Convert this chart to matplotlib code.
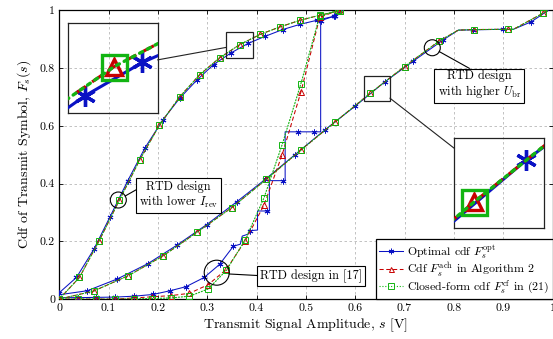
import matplotlib.pyplot as plt
from matplotlib.patches import Ellipse, Rectangle
from matplotlib.lines import Line2D

plt.rcParams['font.family'] = 'cmr10'
plt.rcParams['mathtext.fontset'] = 'cm'
plt.rcParams['axes.formatter.use_mathtext'] = True
plt.rcParams['axes.unicode_minus'] = False

# RTD design with lower I_rev
a_opt_x = [0, 0.035, 0.07, 0.103, 0.139, 0.174, 0.21, 0.244, 0.279, 0.313, 0.348,
           0.383, 0.418, 0.453, 0.488, 0.522, 0.557, 0.575]
a_opt_y = [0.022, 0.075, 0.172, 0.285, 0.41, 0.524, 0.62, 0.695, 0.758, 0.812, 0.852,
           0.885, 0.91, 0.933, 0.951, 0.965, 0.979, 1.0]
a_x = [0, 0.041, 0.081, 0.122, 0.163, 0.203, 0.244, 0.285, 0.325, 0.366, 0.407,
       0.447, 0.488, 0.529, 0.569]
a_ach = [0, 0.075, 0.202, 0.343, 0.481, 0.602, 0.70, 0.777, 0.835, 0.881, 0.916,
         0.942, 0.965, 0.983, 0.998]
a_cf = [0, 0.075, 0.202, 0.343, 0.481, 0.602, 0.70, 0.777, 0.835, 0.881, 0.916,
        0.942, 0.965, 0.983, 0.998]

# RTD design with higher U_br
b_opt_x = [0, 0.057, 0.118, 0.18, 0.238, 0.299, 0.36, 0.418, 0.478, 0.538, 0.6,
           0.66, 0.718, 0.779, 0.809, 0.839, 0.9, 0.921, 0.957, 0.992]
b_opt_y = [0.015, 0.029, 0.07, 0.123, 0.186, 0.258, 0.337, 0.415, 0.50, 0.585, 0.668,
           0.752, 0.824, 0.898, 0.931, 0.932, 0.934, 0.934, 0.96, 1.0]
b_x = [0, 0.07, 0.14, 0.21, 0.28, 0.35, 0.42, 0.49, 0.56, 0.63, 0.70, 0.77, 0.809,
       0.84, 0.91, 0.921, 0.98, 0.992]
b_ach = [0, 0.028, 0.081, 0.149, 0.232, 0.317, 0.415, 0.516, 0.614, 0.712, 0.805,
         0.893, 0.931, 0.933, 0.934, 0.934, 0.989, 1.0]
b_cf = [0, 0.028, 0.081, 0.149, 0.232, 0.317, 0.415, 0.516, 0.614, 0.712, 0.805,
        0.893, 0.931, 0.933, 0.934, 0.934, 0.989, 1.0]

# RTD design in [17]
c_opt_x = [0, 0.038, 0.075, 0.113, 0.151, 0.19, 0.225, 0.257, 0.294, 0.325, 0.353,
           0.367, 0.371, 0.383, 0.387, 0.402, 0.402, 0.422, 0.426, 0.426, 0.453,
           0.458, 0.458, 0.485, 0.517, 0.53, 0.53, 0.559, 0.575]
c_opt_y = [0.005, 0.005, 0.006, 0.007, 0.01, 0.016, 0.029, 0.043, 0.075, 0.12, 0.183,
           0.19, 0.218, 0.225, 0.237, 0.239, 0.305, 0.305, 0.305, 0.41, 0.41,
           0.41, 0.579, 0.579, 0.579, 0.579, 0.964, 0.98, 1.0]
c_x = [0, 0.038, 0.075, 0.113, 0.151, 0.189, 0.226, 0.264, 0.302, 0.339, 0.377,
       0.415, 0.452, 0.49, 0.528, 0.566]
c_ach = [0, 0, 0, 0, 0.004, 0.008, 0.012, 0.02, 0.05, 0.103, 0.202, 0.325, 0.50,
         0.717, 0.975, 1.0]
c_cf = [0, 0, 0, 0, 0.001, 0.002, 0.004, 0.01, 0.035, 0.10, 0.205, 0.35, 0.535,
        0.746, 0.98, 1.0]

x_ticks = [0, 0.1, 0.2, 0.3, 0.4, 0.5, 0.6, 0.7, 0.8, 0.9, 1.0]
x_tick_labels = ['0', '0.1', '0.2', '0.3', '0.4', '0.5', '0.6', '0.7', '0.8', '0.9', '1']
y_ticks = [0, 0.2, 0.4, 0.6, 0.8, 1.0]
y_tick_labels = ['0', '0.2', '0.4', '0.6', '0.8', '1']

legend_labels = [r'Optimal cdf $F_s^{\rm opt}$',
                 r'Cdf $F_s^{\rm ach}$ in Algorithm 2',
                 r'Closed-form cdf $F_s^{\rm cf}$ in (21)']

BLUE = '#0a12c4'
RED = '#c80000'
GREEN = '#12b412'
STAR = (6, 2, 0)

# which points carry a marker
a_opt_marks = list(range(17))
b_opt_marks = list(range(1, 14)) + [15, 16, 18]
c_opt_marks = list(range(1, 11)) + [14, 17, 20, 23, 24, 26, 27]
b_marks = list(range(12)) + [13, 14, 16]


def draw_curves(a, lw, ms_star, ms_tri, ms_sq, mew):
    opt = [(a_opt_x, a_opt_y, a_opt_marks), (b_opt_x, b_opt_y, b_opt_marks),
           (c_opt_x, c_opt_y, c_opt_marks)]
    other = [(a_x, a_ach, a_cf, None), (b_x, b_ach, b_cf, b_marks),
             (c_x, c_ach, c_cf, None)]
    for xs, ys, mk in opt:
        a.plot(xs, ys, color=BLUE, lw=lw, marker=STAR, ms=ms_star, mew=mew,
               markevery=mk, zorder=3)
    for xs, ach, cf, mk in other:
        a.plot(xs, ach, color=RED, lw=lw, ls=(0, (4, 2.5)), marker='^', ms=ms_tri,
               mew=mew, mfc='none', markevery=mk, zorder=4)
        a.plot(xs, cf, color=GREEN, lw=lw * 1.1, ls=(0, (1, 1.6)), marker='s',
               ms=ms_sq, mew=mew, mfc='none', markevery=mk, zorder=5,
               dash_capstyle='round')


fig = plt.figure(figsize=(5.53, 3.39), dpi=100)
ax = fig.add_axes([0.1071, 0.1177, 0.892, 0.8522])

draw_curves(ax, 0.75, 4.2, 4.0, 5.0, 0.7)

ax.set_xlim(0, 1)
ax.set_ylim(0, 1)
ax.set_xticks(x_ticks)
ax.set_xticklabels(x_tick_labels)
ax.set_yticks(y_ticks)
ax.set_yticklabels(y_tick_labels)
ax.tick_params(direction='in', length=3, width=0.6, labelsize=8.5, top=True,
               right=True, pad=3)
ax.grid(True, color='#b8b8b8', ls=(0, (3, 3)), lw=0.6)
for s in ax.spines.values():
    s.set_linewidth(0.9)
ax.set_xlabel(r'Transmit Signal Amplitude, $s$ [V]', fontsize=10, labelpad=3)
ax.set_ylabel(r'Cdf of Transmit Symbol, $F_s(s)$', fontsize=10, labelpad=5)

handles = [
    Line2D([], [], color=BLUE, lw=0.75, marker=STAR, ms=4.0, mew=0.7),
    Line2D([], [], color=RED, lw=0.75, ls=(0, (4, 2.5)), marker='^', ms=3.6,
           mew=0.7, mfc='none'),
    Line2D([], [], color=GREEN, lw=0.8, ls=(0, (1, 1.6)), marker='s', ms=4.2,
           mew=0.7, mfc='none'),
]
leg = ax.legend(handles, legend_labels, loc='lower right', fontsize=8.6,
                frameon=True, fancybox=False, framealpha=1, edgecolor='black',
                borderaxespad=0, handlelength=2.0, handletextpad=0.3,
                labelspacing=-0.05, borderpad=0.3)
leg.get_frame().set_linewidth(0.9)
leg.set_zorder(10)

# zoomed insets: (inset box in data coords), (source window)
insets = [((0.0184, 0.6452, 0.1813, 0.3095), (0.3381, 0.3923, 0.8356, 0.9235)),
          ((0.8009, 0.2451, 0.1819, 0.3115), (0.6185, 0.6706, 0.6867, 0.7733))]
for box, src in insets:
    ins = ax.inset_axes(box, transform=ax.transData)
    ins.set_facecolor('none')
    draw_curves(ins, 2.2, 15, 12, 18, 2.4)
    ins.set_xlim(src[0], src[1])
    ins.set_ylim(src[2], src[3])
    ins.set_xticks([])
    ins.set_yticks([])
    for s in ins.spines.values():
        s.set_linewidth(0.9)
        s.set_color('#222222')
    ax.add_patch(Rectangle((src[0], src[2]), src[1] - src[0], src[3] - src[2],
                           fill=False, ec='#222222', lw=0.9, zorder=6))
    # connector line between the centres, clipped to both boxes
    c1 = (box[0] + box[2] / 2, box[1] + box[3] / 2)
    c2 = ((src[0] + src[1]) / 2, (src[2] + src[3]) / 2)
    dx, dy = c2[0] - c1[0], c2[1] - c1[1]
    t1 = min(box[2] / 2 / abs(dx), box[3] / 2 / abs(dy))
    t2 = 1 - min((src[1] - src[0]) / 2 / abs(dx), (src[3] - src[2]) / 2 / abs(dy))
    ax.plot([c1[0] + t1 * dx, c1[0] + t2 * dx], [c1[1] + t1 * dy, c1[1] + t2 * dy],
            color='#222222', lw=0.8, zorder=6)

# annotation circles, text boxes and pointer lines
notes = [
    ((0.1198, 0.343), 8, (0.2422, 0.359), 'RTD design\nwith lower $I_{\\rm rev}$',
     ((0.1338, 0.3569), (0.1551, 0.3776))),
    ((0.7563, 0.870), 8, (0.8514, 0.741), 'RTD design\nwith higher $U_{\\rm br}$',
     ((0.7705, 0.8567), (0.8313, 0.7989))),
    ((0.3193, 0.0914), 12.5, (0.5098, 0.079), 'RTD design in [17]',
     ((0.3448, 0.0869), (0.4013, 0.0817))),
]
for center, r_px, tpos, txt, seg in notes:
    w = 2 * r_px / (0.892 * 553)
    h = 2 * r_px / (0.8522 * 339)
    ax.add_patch(Ellipse(center, w, h, fill=False, ec='black', lw=0.8, zorder=7))
    ax.plot([seg[0][0], seg[1][0]], [seg[0][1], seg[1][1]], color='black',
            lw=0.8, zorder=7)
    ax.text(tpos[0], tpos[1], txt, ha='center', va='center', fontsize=8.8,
            multialignment='center', linespacing=1.1, zorder=8,
            bbox=dict(boxstyle='square,pad=0.25', fc='white', ec='black', lw=0.8))

fig.savefig('out.png', dpi=100)
